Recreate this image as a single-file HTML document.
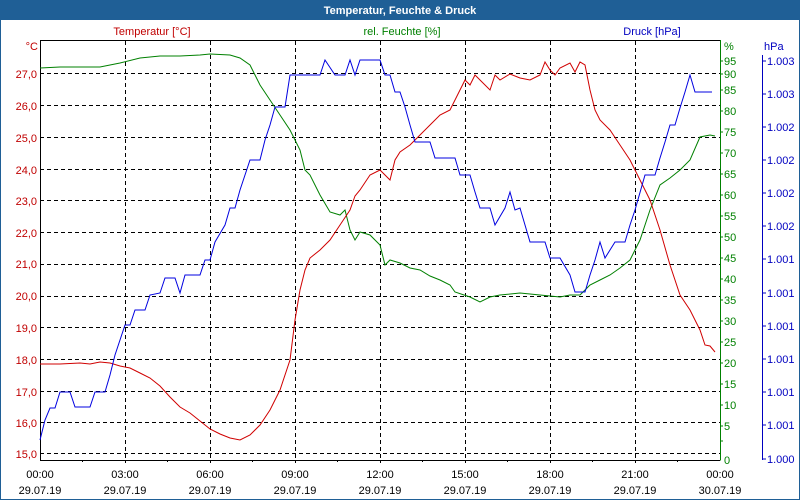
<!DOCTYPE html>
<html><head><meta charset="utf-8"><style>
html,body{margin:0;padding:0;background:#fff}
svg{display:block;font-family:"Liberation Sans",sans-serif;font-size:11px}
</style></head><body>
<svg width="800" height="500" viewBox="0 0 800 500" xmlns="http://www.w3.org/2000/svg">
<rect x="0" y="0" width="800" height="500" fill="#fff"/>
<rect x="0" y="0" width="800" height="20" fill="#1f5f96"/>
<rect x="0.5" y="0.5" width="799" height="499" fill="none" stroke="#1f5f96"/>
<text x="400" y="14" text-anchor="middle" fill="#fff" font-weight="bold" font-size="11">Temperatur, Feuchte &amp; Druck</text>
<text x="152" y="35" text-anchor="middle" fill="#c00000">Temperatur [°C]</text>
<text x="402" y="35" text-anchor="middle" fill="#008000">rel. Feuchte [%]</text>
<text x="652" y="35" text-anchor="middle" fill="#0000c0">Druck [hPa]</text>
<text x="38" y="50" text-anchor="end" fill="#c00000">°C</text>
<text x="724" y="50" fill="#008000">%</text>
<text x="764" y="50" fill="#0000c0">hPa</text>
<g stroke="#000" stroke-dasharray="4,3" stroke-width="1">
<path d="M125.5 41V460M210.5 41V460M295.5 41V460M380.5 41V460M465.5 41V460M550.5 41V460M635.5 41V460"/>
<path d="M40 73.5H720M40 105.5H720M40 137.5H720M40 169.5H720M40 200.5H720M40 232.5H720M40 264.5H720M40 296.5H720M40 327.5H720M40 359.5H720M40 391.5H720M40 422.5H720M40 453.5H720"/>
</g>
<path d="M40.5 40.5H720.5M40.5 40V460.5H720" stroke="#000" fill="none"/>
<path d="M720.5 40V460.5" stroke="#008000" fill="none"/>
<path d="M762.5 55V460" stroke="#0000c0" fill="none"/>
<g fill="#c00000" text-anchor="end">
<text x="37" y="78">27,0</text><text x="37" y="110">26,0</text><text x="37" y="142">25,0</text><text x="37" y="174">24,0</text><text x="37" y="205">23,0</text><text x="37" y="237">22,0</text><text x="37" y="268">21,0</text><text x="37" y="300">20,0</text><text x="37" y="332">19,0</text><text x="37" y="364">18,0</text><text x="37" y="396">17,0</text><text x="37" y="427">16,0</text><text x="37" y="458">15,0</text>
</g>
<g fill="#008000">
<text x="724" y="65">95</text><text x="724" y="78">90</text><text x="724" y="94">85</text><text x="724" y="115">80</text><text x="724" y="136">75</text><text x="724" y="157">70</text><text x="724" y="178">65</text><text x="724" y="199">60</text><text x="724" y="220">55</text><text x="724" y="241">50</text><text x="724" y="262">45</text><text x="724" y="283">40</text><text x="724" y="304">35</text><text x="724" y="325">30</text><text x="724" y="346">25</text><text x="724" y="367">20</text><text x="724" y="388">15</text><text x="724" y="409">10</text><text x="724" y="430">5</text><text x="724" y="464">0</text>
</g>
<g stroke="#008000"><path d="M720 61h3M720 74h3M720 90h3M720 111h3M720 132h3M720 153h3M720 174h3M720 195h3M720 216h3M720 237h3M720 258h3M720 279h3M720 300h3M720 321h3M720 342h3M720 363h3M720 384h3M720 405h3M720 426h3M720 441h3"/></g>
<g stroke="#0000c0"><path d="M762 61h4M762 94h4M762 127h4M762 160h4M762 193h4M762 226h4M762 259h4M762 293h4M762 326h4M762 359h4M762 392h4M762 425h4M762 459h4"/></g>
<g fill="#0000c0">
<text x="767" y="65">1.003</text><text x="767" y="98">1.003</text><text x="767" y="131">1.002</text><text x="767" y="164">1.002</text><text x="767" y="197">1.002</text><text x="767" y="230">1.002</text><text x="767" y="263">1.001</text><text x="767" y="297">1.001</text><text x="767" y="330">1.001</text><text x="767" y="363">1.001</text><text x="767" y="396">1.001</text><text x="767" y="429">1.001</text><text x="767" y="463">1.000</text>
</g>
<g stroke="#000"><path d="M125.5 460v3M210.5 460v3M295.5 460v3M380.5 460v3M465.5 460v3M550.5 460v3M635.5 460v3M82.5 460v2M167.5 460v2M252.5 460v2M337.5 460v2M422.5 460v2M507.5 460v2M592.5 460v2M677.5 460v2"/></g>
<g fill="#000" text-anchor="middle">
<text x="40" y="478">00:00</text><text x="125" y="478">03:00</text><text x="210" y="478">06:00</text><text x="295" y="478">09:00</text><text x="380" y="478">12:00</text><text x="465" y="478">15:00</text><text x="550" y="478">18:00</text><text x="635" y="478">21:00</text><text x="720" y="478">00:00</text>
<text x="40" y="494">29.07.19</text><text x="125" y="494">29.07.19</text><text x="210" y="494">29.07.19</text><text x="295" y="494">29.07.19</text><text x="380" y="494">29.07.19</text><text x="465" y="494">29.07.19</text><text x="550" y="494">29.07.19</text><text x="635" y="494">29.07.19</text><text x="720" y="494">30.07.19</text>
</g>
<polyline fill="none" stroke="#008000" stroke-width="1" points="40,68 60,67 100,67 120,63 140,58 160,56 180,56 200,55 210,54 230,55 240,58 250,65 260,85 270,100 280,115 290,130 300,150 305,170 310,175 320,195 330,212 340,215 345,210 350,230 355,240 360,232 370,235 380,245 385,265 390,260 400,263 410,268 420,270 430,276 440,280 450,285 455,292 470,297 480,302 490,297 500,295 520,293 540,295 550,296 560,297 570,295 580,295 590,285 600,280 610,275 620,268 630,260 640,240 650,210 660,185 670,178 680,170 690,160 700,137 710,135 715,136"/>
<polyline fill="none" stroke="#d00000" stroke-width="1" points="40,364 60,364 80,363 90,364 100,362 110,363 120,366 130,368 140,373 150,378 160,386 170,397 180,407 190,413 200,421 210,429 220,434 230,438 240,440 250,435 260,425 270,410 280,390 290,360 295,320 300,290 305,270 310,258 320,250 330,240 340,225 350,210 355,196 360,190 370,175 380,170 390,180 395,160 400,152 410,145 420,135 430,125 440,115 450,110 455,100 460,90 465,80 470,85 475,75 480,80 490,90 495,75 500,80 510,74 520,78 530,80 540,75 545,62 550,70 555,75 560,68 570,63 575,72 580,62 585,65 590,90 595,110 600,120 610,130 620,145 630,160 640,180 650,200 660,230 670,265 680,295 690,310 700,330 705,345 710,346 715,352"/>
<polyline fill="none" stroke="#0000e0" stroke-width="1" points="40,440 45,420 50,408 55,408 60,392 70,392 75,407 90,407 95,392 105,392 110,375 115,355 120,340 125,325 130,325 135,310 145,310 150,295 160,293 165,278 175,278 180,293 185,275 200,275 205,260 210,260 215,242 225,225 230,208 235,208 240,190 245,175 250,160 260,160 265,140 270,125 275,107 285,107 290,75 320,75 325,60 335,75 345,75 350,60 355,75 360,60 380,60 385,75 390,75 395,92 400,92 405,107 410,125 415,142 430,142 435,158 455,158 460,175 470,175 475,192 480,208 490,208 495,225 505,208 510,192 515,210 520,208 525,225 530,242 545,242 550,258 560,258 570,275 575,292 585,292 590,275 595,260 600,242 605,258 615,242 625,242 630,225 635,210 645,175 655,175 660,158 665,142 670,125 675,125 680,108 685,92 690,75 695,92 712,92"/>
</svg>
</body></html>
